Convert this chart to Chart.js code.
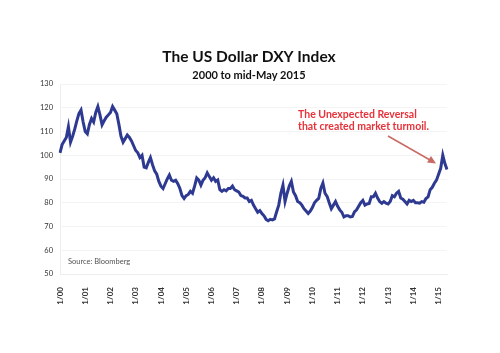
<!DOCTYPE html>
<html>
<head>
<meta charset="utf-8">
<script src="https://cdn.jsdelivr.net/npm/chart.js@4.4.1/dist/chart.umd.min.js"></script>
<style>
  html, body { margin: 0; padding: 0; background: #fff; }
  #wrap { width: 500px; height: 353px; }
</style>
</head>
<body>
<div id="wrap"><canvas id="chart"></canvas></div>
<script>
// monthly DXY closes, Jan 2000 .. May 2015
var years = ['00','01','02','03','04','05','06','07','08','09','10','11','12','13','14','15'];
var dxy2000 = [101, 104.5, 106, 107.5, 112, 105.5, 108, 111, 114.5, 117.5, 119, 114];
var dxy2001 = [110, 109, 113, 115.5, 114, 118, 120.5, 117, 112.8, 114.5, 116, 117];
var dxy2002 = [118, 120.5, 119, 117.5, 113, 108, 105.5, 107, 108.5, 107.5, 106, 104];
var dxy2003 = [102, 101, 99, 100, 95, 94.7, 97, 99, 96, 93.4, 92, 89];
var dxy2004 = [87, 86, 88, 90, 91.7, 89.5, 89, 89.5, 88, 86, 83, 81.8];
var dxy2005 = [83, 83.5, 84.8, 84, 87, 90.4, 89.5, 87.4, 89.5, 90.5, 92.6, 91];
var dxy2006 = [89.5, 90.5, 89, 89.6, 85.5, 84.8, 85.5, 85, 86, 86, 87, 85.5];
var dxy2007 = [85, 84.5, 83, 82.7, 82, 82, 80.5, 81, 79, 77.5, 76, 76.7];
var dxy2008 = [75.5, 74.5, 73, 72.4, 73, 72.8, 73.2, 76.2, 79, 84, 87.4, 80.5];
var dxy2009 = [84, 87, 89, 84.5, 83, 80.5, 80, 79, 77.5, 76.5, 75.5, 76.5];
var dxy2010 = [78, 80, 81, 81.8, 86, 88.3, 84, 82.7, 80, 77.5, 79, 80.5];
var dxy2011 = [78.5, 77, 76, 74, 74.5, 74.5, 74, 74.2, 76.2, 77, 78.5, 80];
var dxy2012 = [81, 79, 79.5, 79.7, 82.5, 82.5, 84, 82, 80.5, 79.8, 80.5, 79.8];
var dxy2013 = [79.5, 80.5, 83, 82.5, 84, 84.8, 82, 81.5, 80.5, 79.5, 81, 80.5];
var dxy2014 = [81, 80, 80, 79.8, 80.5, 80.2, 81.8, 82.5, 85.5, 86.5, 88.2, 89.5];
var dxy2015 = [92, 94.5, 100, 96.5, 94];
var yTicks = [50, 60, 70, 80, 90, 100, 110, 120, 130];

var series = [dxy2000, dxy2001, dxy2002, dxy2003, dxy2004, dxy2005, dxy2006, dxy2007,
              dxy2008, dxy2009, dxy2010, dxy2011, dxy2012, dxy2013, dxy2014, dxy2015];
var labels = [];
var values = [];
series.forEach(function(yr, i){
    yr.forEach(function(v, m){
        labels.push((m + 1) + '/1/' + years[i]);
        values.push(v);
    });
});

var FONT = 'Lato, "Open Sans", sans-serif';

var extras = {
    id: 'extras',
    afterDraw: function(c){
        var g = c.ctx;
        g.save();
        g.textBaseline = 'middle';
        g.fillStyle = '#111';
        g.textAlign = 'center';
        g.font = 'bold 15.5px ' + FONT;
        g.fillText('The US Dollar DXY Index', 249, 57);
        g.font = 'bold 11px ' + FONT;
        g.fillText('2000 to mid-May 2015', 249, 75);

        g.textAlign = 'left';
        g.fillStyle = '#e8323a';
        g.font = 'bold 10.5px ' + FONT;
        g.fillText('The Unexpected Reversal', 298, 115);
        g.fillText('that created market turmoil.', 298, 127);

        // arrow
        g.strokeStyle = '#c96a64';
        g.fillStyle = '#c96a64';
        g.lineWidth = 1.5;
        g.beginPath();
        g.moveTo(388, 136);
        g.lineTo(430, 160);
        g.stroke();
        g.beginPath();
        g.moveTo(436, 163.5);
        g.lineTo(427, 162.5);
        g.lineTo(431, 156);
        g.closePath();
        g.fill();

        g.fillStyle = '#555';
        g.font = '7.5px ' + FONT;
        g.fillText('Source: Bloomberg', 68, 262);
        g.restore();
    }
};

var ctx = document.getElementById('chart').getContext('2d');
var chart = new Chart(ctx, {
    type: 'line',
    data: {
        labels: labels,
        datasets: [{
            label: 'DXY',
            data: values,
            borderColor: '#2e3a92',
            borderWidth: 3,
            pointRadius: 0,
            tension: 0,
            fill: false
        }]
    },
    options: {
        responsive: true,
        maintainAspectRatio: false,
        animation: false,
        layout: { padding: { top: 84, right: 53, bottom: 49, left: 0 } },
        plugins: {
            legend: { display: false },
            tooltip: { enabled: false }
        },
        scales: {
            x: {
                type: 'category',
                offset: false,
                grid: { display: false },
                border: { display: true, color: '#eeeeee' },
                ticks: {
                    autoSkip: false,
                    minRotation: 90,
                    maxRotation: 90,
                    padding: 5,
                    color: '#333',
                    font: { family: FONT, size: 8, weight: 'bold' },
                    callback: function(v, i){
                        var l = labels[i];
                        return l.indexOf('1/1/') === 0 ? l : null;
                    }
                },
                afterFit: function(s){ s.height = 30; }
            },
            y: {
                min: 50,
                max: 130,
                afterBuildTicks: function(s){ s.ticks = yTicks.map(function(v){ return { value: v }; }); },
                grid: { color: '#f4f4f4', drawTicks: false },
                border: { display: true, color: '#eeeeee' },
                ticks: {
                    padding: 7,
                    color: '#333',
                    font: { family: FONT, size: 7.5 }
                },
                afterFit: function(s){ s.width = 60; }
            }
        }
    },
    plugins: [extras]
});
</script>
</body>
</html>
